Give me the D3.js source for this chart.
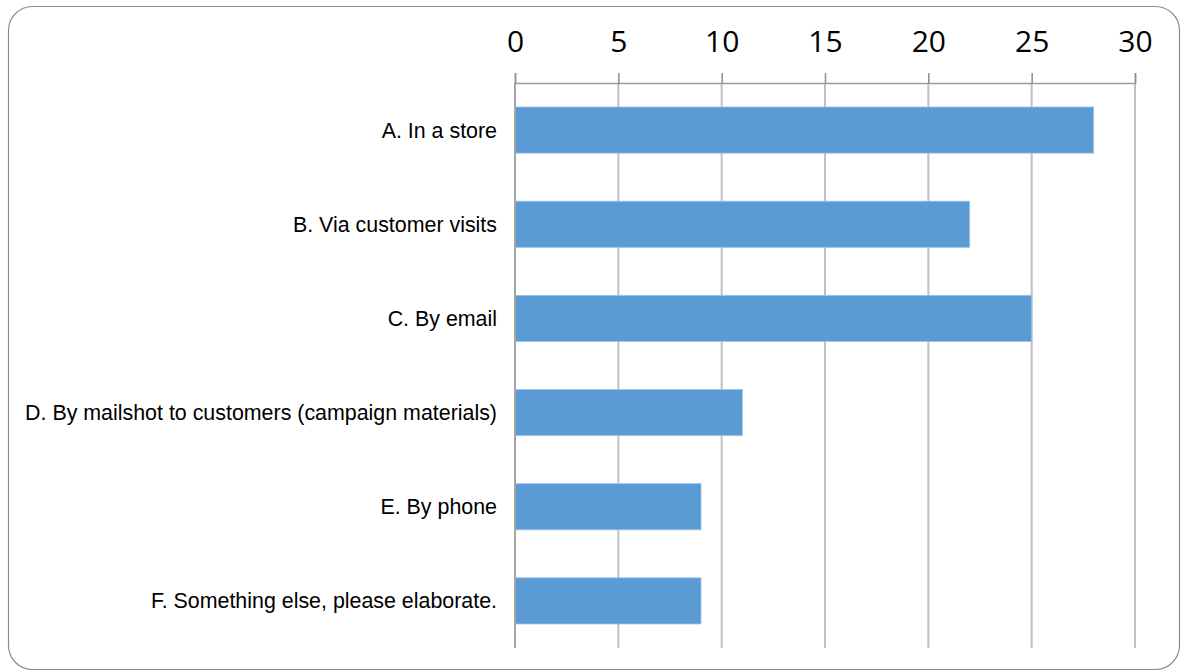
<!DOCTYPE html>
<html>
<head>
<meta charset="utf-8">
<script src="https://cdn.jsdelivr.net/npm/d3@7"></script>
<style>
  html, body { margin: 0; padding: 0; background: #ffffff; }
  svg { display: block; }
</style>
</head>
<body>
<svg id="chart" width="1186" height="672"></svg>
<script>
// Survey responses by channel
const categories = [
  "A. In a store",
  "B. Via customer visits",
  "C. By email",
  "D. By mailshot to customers (campaign materials)",
  "E. By phone",
  "F. Something else, please elaborate."
];
const values = [28, 22, 25, 11, 9, 9];
const tickValues = [0, 5, 10, 15, 20, 25, 30];

const svg = d3.select("#chart");

// rounded frame
svg.append("rect")
  .attr("x", 8.5).attr("y", 6.5)
  .attr("width", 1171).attr("height", 663)
  .attr("rx", 24).attr("ry", 24)
  .attr("fill", "#ffffff")
  .attr("stroke", "#8c8c8c")
  .attr("stroke-width", 1.2);

const plot = { left: 515, right: 1135, top: 83, bottom: 648 };

const x = d3.scaleLinear().domain([0, 30]).range([plot.left, plot.right]);
const y = d3.scaleBand().domain(categories).range([plot.top, plot.bottom])
  .paddingInner(0.51).paddingOuter(0.255);

// vertical gridlines
svg.append("g")
  .selectAll("line")
  .data(tickValues.slice(1))
  .join("line")
  .attr("x1", d => x(d)).attr("x2", d => x(d))
  .attr("y1", plot.top).attr("y2", plot.bottom)
  .attr("stroke", "#c0c0c0")
  .attr("stroke-width", 2);

// bars
svg.append("g")
  .selectAll("rect")
  .data(categories)
  .join("rect")
  .attr("x", x(0))
  .attr("y", d => y(d))
  .attr("width", (d, i) => x(values[i]) - x(0))
  .attr("height", y.bandwidth())
  .attr("fill", "#5b9bd5")
  .attr("stroke", "#9dc3e6")
  .attr("stroke-width", 0.8);

// category axis line
svg.append("line")
  .attr("x1", x(0)).attr("x2", x(0))
  .attr("y1", plot.top).attr("y2", plot.bottom)
  .attr("stroke", "#a6a6a6")
  .attr("stroke-width", 2);

// value axis along the top
const xAxis = d3.axisTop(x)
  .tickValues(tickValues)
  .tickSize(10)
  .tickPadding(21)
  .tickFormat(d3.format("d"));

const gx = svg.append("g")
  .attr("transform", `translate(0,${plot.top})`)
  .call(xAxis);
gx.select(".domain").attr("stroke", "#9a9a9a").attr("stroke-width", 1.5);
gx.selectAll(".tick line").attr("stroke", "#8c8c8c").attr("stroke-width", 1.5);
gx.selectAll(".tick text")
  .attr("fill", "#000000")
  .style("font-family", "'Open Sans', 'Liberation Sans', sans-serif")
  .style("font-size", "30px");

// category labels
svg.append("g")
  .selectAll("text")
  .data(categories)
  .join("text")
  .attr("x", plot.left - 18)
  .attr("y", d => y(d) + y.bandwidth() / 2)
  .attr("dy", "0.35em")
  .attr("text-anchor", "end")
  .attr("fill", "#000000")
  .style("font-family", "'Liberation Sans', Arial, sans-serif")
  .style("font-size", "21.4px")
  .text(d => d);
</script>
</body>
</html>
